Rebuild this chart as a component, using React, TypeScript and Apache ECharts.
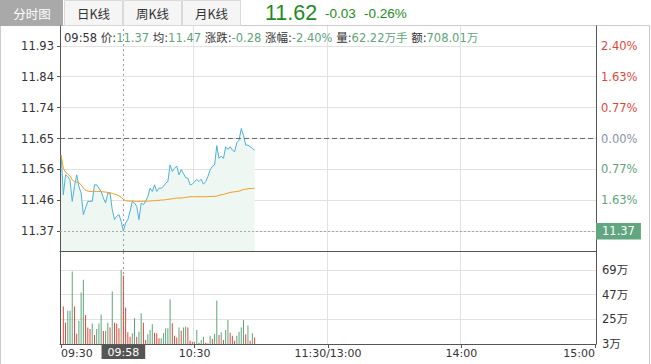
import React, { useEffect, useRef } from 'react';
import * as echarts from 'echarts';

// ---- data ----
const priceValues = [
  11.60, 11.48, 11.54, 11.535, 11.525, 11.46, 11.505, 11.54, 11.505, 11.485,
  11.42, 11.44, 11.46, 11.46, 11.46, 11.51, 11.51, 11.50, 11.49, 11.47,
  11.455, 11.485, 11.485, 11.435, 11.405, 11.415, 11.42, 11.40, 11.37, 11.395,
  11.405, 11.43, 11.46, 11.455, 11.445, 11.405, 11.455, 11.45, 11.46, 11.475,
  11.50, 11.49, 11.51, 11.49, 11.50, 11.50, 11.505, 11.515, 11.52, 11.57,
  11.55, 11.56, 11.567, 11.54, 11.556, 11.544, 11.532, 11.53, 11.51, 11.512,
  11.52, 11.526, 11.52, 11.527, 11.512, 11.52, 11.535, 11.555, 11.566, 11.57,
  11.628, 11.59, 11.597, 11.59, 11.625, 11.617, 11.625, 11.615, 11.61, 11.637,
  11.645, 11.68, 11.66, 11.63, 11.63, 11.625, 11.62, 11.615,
];
const avgValues = [
  11.60, 11.56, 11.548, 11.543, 11.537, 11.525, 11.52, 11.518, 11.516, 11.51,
  11.50, 11.494, 11.491, 11.49, 11.49, 11.49, 11.49, 11.49, 11.489, 11.489,
  11.488, 11.487, 11.486, 11.484, 11.482, 11.48, 11.477, 11.472, 11.466, 11.462,
  11.461, 11.461, 11.461, 11.46, 11.46, 11.46, 11.46, 11.46, 11.46, 11.461,
  11.461, 11.462, 11.462, 11.463, 11.463, 11.464, 11.464, 11.465, 11.466, 11.467,
  11.468, 11.469, 11.47, 11.47, 11.47, 11.471, 11.472, 11.473, 11.474, 11.474,
  11.474, 11.474, 11.474, 11.474, 11.474, 11.474, 11.474, 11.475, 11.475, 11.475,
  11.476, 11.478, 11.48, 11.481, 11.483, 11.485, 11.487, 11.488, 11.489, 11.49,
  11.491, 11.493, 11.496, 11.497, 11.498, 11.499, 11.499, 11.50,
];
// volumes (万) from 09:31 on
const volumeValues = [
  36.3, 22.0, 32.5, 32.5, 67.6, 36.3, 12.2, 23.5, 48.8, 60.1,
  28.9, 17.6, 16.4, 21.2, 11.0, 16.4, 21.2, 29.2, 14.6, 14.6,
  22.0, 17.6, 49.7, 22.0, 21.2, 17.0, 69.1, 64.0, 35.4, 13.4,
  9.5, 12.5, 25.9, 9.5, 14.0, 30.4, 22.0, 6.6, 11.6, 15.5,
  20.6, 13.1, 12.5, 8.1, 8.1, 12.5, 17.0, 17.0, 42.9, 21.5,
  10.4, 8.7, 17.6, 14.9, 17.6, 18.5, 17.6, 6.0, 5.1, 5.1,
  15.5, 4.2, 6.6, 9.5, 4.2, 3.6, 10.4, 7.5, 11.9, 41.7,
  11.0, 13.4, 6.6, 15.5, 24.4, 13.1, 10.4, 6.0, 10.4, 14.0,
  17.6, 24.4, 11.6, 19.4, 6.0, 12.5, 8.7,
];
// r = up (red), g = down (green)
const volumeSides =
  'rrgggrrggg' + 'rrrgrgggrg' + 'grgrrrgrrr' + 'rggrggrrgg' + 'grrrgggggr' +
  'rrgrggrrrg' + 'grggrrgrgg' + 'rgrggrrrgg' + 'ggrgrgr';

const prevClose = 11.65;
const priceMin = 11.31;
const priceMax = 11.99;
const priceTicks = [11.37, 11.463333, 11.556667, 11.65, 11.743333, 11.836667, 11.93];
const percentTicks = [11.463333, 11.556667, 11.65, 11.743333, 11.836667, 11.93];
const percentLabels = ['1.63%', '0.77%', '0.00%', '0.77%', '1.63%', '2.40%'];
const percentSides = ['g', 'g', 'n', 'r', 'r', 'r'];
const volumeMin = 3;
const volumeMax = 85.8;
const volumeLabelTicks = [3, 25, 47, 69];
const volumeGridTicks = [25, 47, 69];
const xLabelIndex = [0, 60, 120, 180, 240];
const xSplitIndex = [60, 120, 180];
const cursorTime = '09:58';
const cursorPrice = 11.37;

const tabs = ['分时图', '日K线', '周K线', '月K线'];
const headPrice = '11.62';
const headChange = '-0.03';
const headPct = '-0.26%';
const infoLabels = ['价', '均', '涨跌', '涨幅', '量', '额'];
const infoValues = ['11.37', '11.47', '-0.28', '-2.40%', '62.22万手', '708.01万'];

const RED = '#e2483a';
const GREEN = '#5ea47b';
const GREY_PCT = '#8793a8';
const FONT = '"DejaVu Sans", "Noto Sans CJK SC", sans-serif';
const CJK = '"Noto Sans CJK SC", sans-serif';

function buildTimes(): string[] {
  const out: string[] = [];
  const pad = (n: number) => (n < 10 ? '0' + n : '' + n);
  for (let m = 9 * 60 + 30; m <= 11 * 60 + 30; m++) out.push(pad(Math.floor(m / 60)) + ':' + pad(m % 60));
  for (let m = 13 * 60 + 1; m <= 15 * 60; m++) out.push(pad(Math.floor(m / 60)) + ':' + pad(m % 60));
  return out;
}

function nearest(arr: number[], v: number): number {
  let best = 0;
  for (let k = 1; k < arr.length; k++) if (Math.abs(arr[k] - v) < Math.abs(arr[best] - v)) best = k;
  return best;
}

export default function App() {
  const ref = useRef<HTMLDivElement>(null);
  useEffect(() => {
    if (!ref.current) return;
    const chart = echarts.init(ref.current, undefined, { renderer: 'svg' });
    const times = buildTimes();

    const barData: any[] = ['-'];
    volumeValues.forEach((v, k) => {
      barData.push({ value: v, itemStyle: { color: volumeSides[k] === 'r' ? RED : GREEN } });
    });

    let info = '{k|' + cursorTime + ' }';
    infoLabels.forEach((l, k) => {
      info += '{k|' + (k > 0 ? ' ' : '') + l + ':}{v|' + infoValues[k] + '}';
    });

    const tabGraphics: any[] = [];
    const tabX = [0, 64, 123, 182];
    const tabW = [63, 58, 58, 58];
    tabs.forEach((t, k) => {
      tabGraphics.push({
        type: 'rect',
        shape: k === 0 ? { x: tabX[k], y: 0, width: tabW[k], height: 26 } : { x: tabX[k] + 0.5, y: 0.5, width: tabW[k], height: 25 },
        style: k === 0 ? { fill: '#a9a9a9' } : { fill: '#f5f5f5', stroke: '#d9d9d9', lineWidth: 1 },
      });
      tabGraphics.push({
        type: 'text',
        x: tabX[k] + tabW[k] / 2 + 0.5,
        y: 13,
        style: {
          text: t, fill: k === 0 ? '#ffffff' : '#333333', fontSize: 12.5, fontFamily: CJK,
          align: 'center', verticalAlign: 'middle',
        },
      });
    });

    const splitX = { show: true, interval: (i: number) => xSplitIndex.includes(i), lineStyle: { color: '#e2e2e2', width: 1 } };

    const option: any = {
      animation: false,
      textStyle: { fontFamily: FONT },
      grid: [
        { left: 60, right: 55, top: 26, height: 225 },
        { left: 60, right: 55, top: 251, height: 93 },
      ],
      xAxis: [
        {
          type: 'category', gridIndex: 0, data: times, boundaryGap: true,
          axisLine: { show: true, onZero: false, lineStyle: { color: '#555555' } },
          axisTick: { show: false }, axisLabel: { show: false }, splitLine: splitX,
        },
        {
          type: 'category', gridIndex: 1, data: times, boundaryGap: true,
          axisLine: { show: true, onZero: false, lineStyle: { color: '#555555' } },
          axisTick: {
            show: true, interval: (i: number) => xLabelIndex.includes(i), alignWithLabel: true, length: 4,
            lineStyle: { color: '#555555' },
          },
          axisLabel: {
            interval: (i: number) => xLabelIndex.includes(i),
            formatter: (v: string, i: number) => (i === 120 ? '11:30/13:00' : v),
            color: '#333333', fontSize: 11, margin: 4, fontFamily: FONT,
            alignMinLabel: 'left', alignMaxLabel: 'right',
          },
          splitLine: splitX,
        },
      ],
      yAxis: [
        {
          type: 'value', gridIndex: 0, position: 'left', min: priceMin, max: priceMax,
          axisLine: { show: true, lineStyle: { color: '#555555' } },
          axisTick: { show: true, length: 3, customValues: priceTicks, lineStyle: { color: '#555555' } },
          axisLabel: {
            customValues: priceTicks, formatter: (v: number) => Number(v).toFixed(2),
            color: '#333333', fontSize: 11.5, margin: 6, fontFamily: FONT,
          },
          splitLine: { show: true, lineStyle: { color: '#e2e2e2' } },
        },
        {
          type: 'value', gridIndex: 0, position: 'right', min: priceMin, max: priceMax,
          axisLine: { show: true, lineStyle: { color: '#555555' } },
          axisTick: { show: false, customValues: percentTicks },
          axisLabel: {
            customValues: percentTicks,
            formatter: (v: number) => percentLabels[nearest(percentTicks, Number(v))],
            color: (v: any) => {
              const s = percentSides[nearest(percentTicks, Number(v))];
              return s === 'r' ? RED : s === 'g' ? GREEN : GREY_PCT;
            },
            fontSize: 11.5, margin: 5, fontFamily: FONT,
          },
          splitLine: { show: false },
        },
        {
          type: 'value', gridIndex: 1, position: 'left', min: volumeMin, max: volumeMax,
          axisLine: { show: true, lineStyle: { color: '#555555' } },
          axisTick: { show: false }, axisLabel: { show: false }, splitLine: { show: false },
        },
        {
          type: 'value', gridIndex: 1, position: 'right', min: volumeMin, max: volumeMax,
          axisLine: { show: true, lineStyle: { color: '#555555' } },
          axisTick: { show: false, customValues: volumeGridTicks },
          axisLabel: {
            customValues: volumeLabelTicks, formatter: (v: number) => Number(v) + '万',
            color: '#333333', fontSize: 11.5, margin: 6, fontFamily: FONT,
          },
          splitLine: { show: true, lineStyle: { color: '#e2e2e2' } },
        },
      ],
      series: [
        {
          type: 'line', xAxisIndex: 0, yAxisIndex: 0, data: priceValues,
          symbol: 'none', showSymbol: false,
          lineStyle: { color: '#4cb1db', width: 1 },
          areaStyle: { color: '#eff7f2', opacity: 1, origin: 'start' },
          z: 2,
          markLine: {
            silent: true, symbol: ['none', 'none'], animation: false,
            data: [
              { yAxis: prevClose, lineStyle: { type: [5, 3], color: '#6a6a6a', width: 1 }, label: { show: false } },
              {
                yAxis: cursorPrice, lineStyle: { type: [2, 2], color: '#a8a8a8', width: 1 },
                label: {
                  show: true, position: 'end', formatter: cursorPrice.toFixed(2), color: '#ffffff',
                  backgroundColor: '#62a67f', padding: [3, 6, 2, 6], distance: 0, fontSize: 11.5, fontFamily: FONT,
                },
              },
              { xAxis: cursorTime, lineStyle: { type: [2, 3], color: '#9a9a9a', width: 1 }, label: { show: false } },
            ],
          },
        },
        {
          type: 'line', xAxisIndex: 0, yAxisIndex: 0, data: avgValues,
          symbol: 'none', showSymbol: false,
          lineStyle: { color: '#f39b1d', width: 1 }, z: 3,
        },
        {
          type: 'bar', xAxisIndex: 1, yAxisIndex: 3, data: barData, barWidth: 1,
          markLine: {
            silent: true, symbol: ['none', 'none'], animation: false, z: 1,
            data: [
              {
                xAxis: cursorTime, lineStyle: { type: [2, 3], color: '#9a9a9a', width: 1 },
                label: {
                  show: true, position: 'start', formatter: cursorTime, color: '#ffffff',
                  backgroundColor: '#555555', padding: [2, 6, 1, 6], distance: 1, fontSize: 11, fontFamily: FONT,
                },
              },
            ],
          },
        },
      ],
      graphic: [
        {
          type: 'rect', shape: { x: 0.5, y: 25.5, width: 649, height: 345 },
          style: { fill: 'none', stroke: '#cccccc', lineWidth: 1 }, silent: true,
        },
        ...tabGraphics,
        {
          type: 'text', x: 265, y: 13,
          style: { text: headPrice, fill: '#1c8c1c', fontSize: 21.5, fontFamily: '"Liberation Sans", sans-serif', verticalAlign: 'middle' },
        },
        {
          type: 'text', x: 325, y: 13,
          style: { text: headChange, fill: '#1c8c1c', fontSize: 13.5, fontFamily: '"Liberation Sans", sans-serif', verticalAlign: 'middle' },
        },
        {
          type: 'text', x: 364, y: 13,
          style: { text: headPct, fill: '#1c8c1c', fontSize: 13.5, fontFamily: '"Liberation Sans", sans-serif', verticalAlign: 'middle' },
        },
        {
          type: 'text', x: 64, y: 37.5, z: 10,
          style: {
            text: info, verticalAlign: 'middle', fontSize: 11.5, fontFamily: FONT,
            rich: {
              k: { fill: '#333333', fontSize: 11.5, fontFamily: FONT },
              v: { fill: GREEN, fontSize: 11.5, fontFamily: FONT },
            },
          },
        },
      ],
    };
    chart.setOption(option);
    return () => chart.dispose();
  }, []);
  return (
    <div
      ref={ref}
      style={{ position: 'absolute', left: 0, top: 0, width: 651, height: 364, background: '#ffffff' }}
    />
  );
}
